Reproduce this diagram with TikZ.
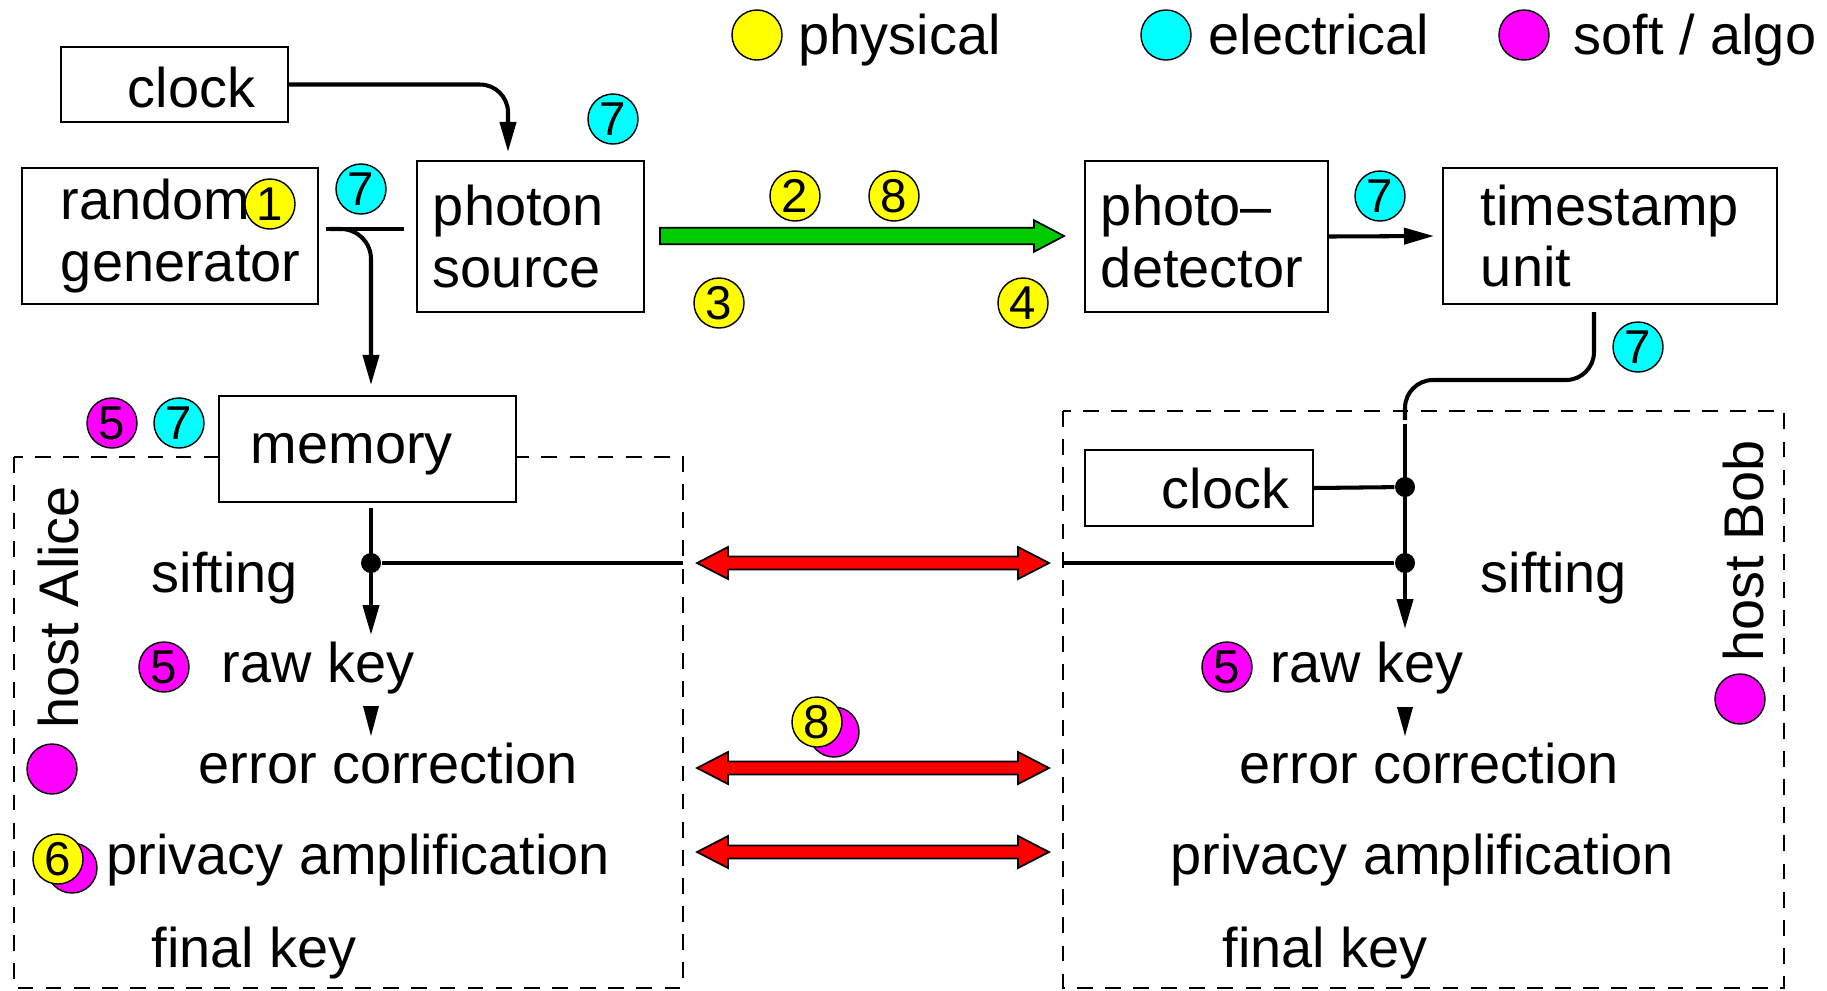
\documentclass[tikz,border=0pt]{standalone}
\usepackage{fontspec}
\setmainfont{Liberation Sans}
\usetikzlibrary{arrows.meta}
\definecolor{qgreen}{RGB}{0,204,0}
\definecolor{qyellow}{RGB}{255,255,0}
\definecolor{qcyan}{RGB}{0,255,255}
\definecolor{qmag}{RGB}{255,0,255}
\definecolor{qred}{RGB}{255,0,0}
\begin{document}
\begin{tikzpicture}[x=0.01cm,y=-0.01cm,
  every node/.style={font=\fontsize{15.9pt}{17.6pt}\selectfont},
  box/.style={draw, line width=0.6pt, fill=white, align=left, inner ysep=0pt},
  boxdim/.style n args={4}{minimum width=#1, minimum height=#2, inner xsep=#3, text width=#4},
  lbl/.style={anchor=base west, inner sep=0pt},
  badge/.style={circle, draw, line width=0.4pt, minimum size=0.5cm, inner sep=0pt, font=\fontsize{13.5pt}{14pt}\selectfont},
  yb/.style={badge, fill=qyellow},
  cb/.style={badge, fill=qcyan},
  mb/.style={badge, fill=qmag},
  conn/.style={line width=1.15pt},
  arr/.style={-{Triangle[length=0.3cm,width=0.16cm]}},
  dot/.style={circle, fill=black, inner sep=0pt, minimum size=0.2cm},
  hostbox/.style={draw, line width=0.6pt, dash pattern=on 4.5pt off 3.5pt},
  greenarrow/.pic={\draw[line width=0.5pt, fill=qgreen] (-202,-8.3) -- (172,-8.3) -- (172,-15.8) -- (202,0) -- (172,15.8) -- (172,8.3) -- (-202,8.3) -- cycle;},
  redarrow/.pic={\draw[line width=0.5pt, fill=qred] (-176,0) -- (-145,-16) -- (-145,-6.5) -- (145,-6.5) -- (145,-16) -- (176,0) -- (145,16) -- (145,6.5) -- (-145,6.5) -- (-145,16) -- cycle;}
]
\useasboundingbox (0,0) rectangle (1827,990);

% legend
\node[yb] (legy) at (757,35) {};
\node[lbl] (legyt) at (798,54) {physical};
\node[cb] (legc) at (1166,35) {};
\node[lbl] (legct) at (1208,54) {electrical};
\node[mb] (legm) at (1524,35) {};
\node[lbl] (legmt) at (1573,54) {soft / algo};

% host boxes
\draw[hostbox] (14,457) rectangle (683,988);
\draw[hostbox] (1063,411) rectangle (1784,988);

% boxes
\node[box, boxdim={2.27cm}{0.75cm}{0.67cm}{0.93cm}, text height=0.6cm, text depth=0.15cm] (clock) at (174.5,84.5) {clock};
\node[box, boxdim={2.96cm}{1.36cm}{0.39cm}{2.18cm}] (randgen) at (170,236) {random\\generator};
\node[box, boxdim={2.27cm}{1.51cm}{0.16cm}{1.95cm}] (photon) at (530.5,236.5) {photon\\source};
\node[box, boxdim={2.43cm}{1.51cm}{0.16cm}{2.11cm}] (detector) at (1206.5,236.5) {photo--\\detector};
\node[box, boxdim={3.34cm}{1.36cm}{0.38cm}{2.58cm}] (timestamp) at (1610,236) {timestamp\\unit};
\node[box, boxdim={2.97cm}{1.06cm}{0.32cm}{2.33cm}, text height=0.42cm, text depth=0.14cm] (memory) at (367.5,449) {memory};
\node[box, boxdim={2.28cm}{0.76cm}{0.77cm}{0.74cm}] (clockB) at (1199,488) {clock};

% fat arrows
\pic at (862,236) {greenarrow};
\pic at (873,563) {redarrow};
\pic at (873,768) {redarrow};
\pic at (873,852) {redarrow};

% connectors top
\draw[conn, arr, rounded corners=0.28cm] (clock.east) -| (508,152);
\draw[conn] (326,229) -- (404,229);
\draw[conn, arr, rounded corners=0.3cm] (330,229) -| (371,385);
\draw[conn, arr] (detector.east) -- (1434,236);

% Alice chain
\node[dot] (adot) at (371,563) {};
\draw[conn, arr] (371,508) -- (371,635);
\draw[conn] (adot) -- (683,563);
\fill (363,706) -- (379,706) -- (371,736) -- cycle;

% Bob chain
\node[dot] (bdot1) at (1405,487) {};
\node[dot] (bdot2) at (1405,563) {};
\draw[conn, rounded corners=0.28cm] (1594,312) |- (1405,380) -- (1405,420);
\draw[conn, arr] (1405,424) -- (1405,629);
\draw[conn] (clockB.east) -- (bdot1);
\draw[conn] (1063,563) -- (bdot2);
\fill (1397,707) -- (1413,707) -- (1405,736) -- cycle;

% Alice texts
\node[lbl] (asift) at (151,592) {sifting};
\node[lbl] (araw) at (221,682) {raw key};
\node[lbl] (aerr) at (198,783) {error correction};
\node[lbl] (apriv) at (106,874) {privacy amplification};
\node[lbl] (afinal) at (151,967) {final key};
\node[lbl, rotate=90] (ahost) at (78,729) {host Alice};

% Bob texts
\node[lbl] (bsift) at (1480,592) {sifting};
\node[lbl] (braw) at (1270,682) {raw key};
\node[lbl] (berr) at (1239,783) {error correction};
\node[lbl] (bpriv) at (1170,874) {privacy amplification};
\node[lbl] (bfinal) at (1222,967) {final key};
\node[lbl, rotate=90] (bhost) at (1763,662) {host Bob};

% badges
\node[yb] (b1) at (270,204) {1};
\node[cb] (b7a) at (361,189) {7};
\node[cb] (b7b) at (613,119) {7};
\node[yb] (b2) at (795,196) {2};
\node[yb] (b8) at (894,196) {8};
\node[yb] (b3) at (719,303) {3};
\node[yb] (b4) at (1023,303) {4};
\node[cb] (b7c) at (1380,196) {7};
\node[cb] (b7d) at (1638,347) {7};
\node[mb] (b5a) at (112,423) {5};
\node[cb] (b7e) at (179,423) {7};
\node[mb] (b5b) at (164,667) {5};
\node[mb] (b5c) at (1227,667) {5};
\node[mb] (b8m) at (834,732) {};
\node[yb] (b8b) at (817,722) {8};
\node[mb] (b6m) at (72,868) {};
\node[yb] (b6) at (58,859) {6};
\node[mb] (ahc) at (52,769) {};
\node[mb] (bhc) at (1740,699) {};
\end{tikzpicture}
\end{document}
